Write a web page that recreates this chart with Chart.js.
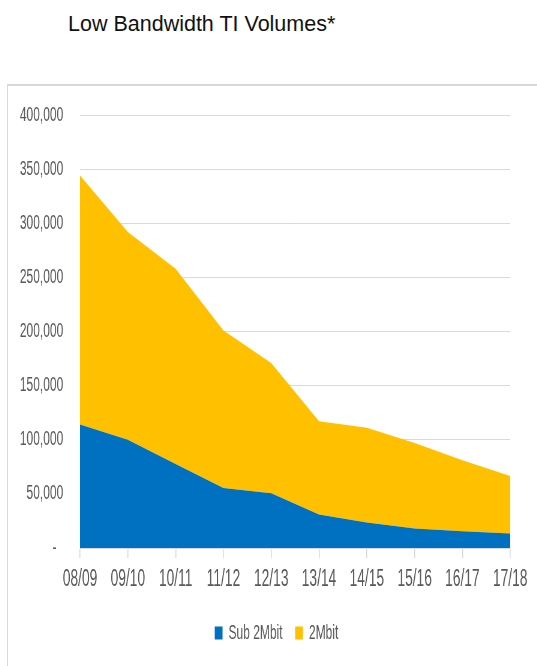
<!DOCTYPE html>
<html>
<head>
<meta charset="utf-8">
<title>Low Bandwidth TI Volumes</title>
<script src="https://cdn.jsdelivr.net/npm/chart.js@4/dist/chart.umd.min.js"></script>
<style>
    html, body { margin: 0; padding: 0; background: #fff; }
    body { width: 537px; height: 666px; position: relative; overflow: hidden; }
    .page-title {
        position: absolute; left: 68px; top: 14px;
        font-family: "Liberation Sans", Arial, sans-serif;
        font-size: 21.5px; line-height: 21px; color: #111;
        white-space: nowrap;
    }
    .chart-frame {
        position: absolute; left: 7px; top: 84px; width: 540px; height: 600px;
        border-top: 2px solid #d9d9d9; border-left: 1px solid #d9d9d9;
    }
    .chart-wrap {
        position: absolute; left: 8px; top: 86px; width: 529px; height: 580px;
        overflow: hidden;
    }
    /* the Excel chart is squeezed sideways, so the canvas is too */
    #volume-chart { transform: scaleX(0.6); transform-origin: 0 0; }
</style>
</head>
<body>
<div class="page-title">Low Bandwidth TI Volumes*</div>
<div class="chart-frame"></div>
<div class="chart-wrap">
    <canvas id="volume-chart" width="882" height="580"></canvas>
</div>

<script>
////////////////////////////////////////////////////////////////////////////////////////////
// Data
////////////////////////////////////////////////////////////////////////////////////////////

const years = ['08/09', '09/10', '10/11', '11/12', '12/13', '13/14', '14/15', '15/16', '16/17', '17/18'];

// circuit volumes per financial year
const sub2Mbit = [114000, 100000, 77500, 55500, 50500, 31000, 23500, 18000, 15500, 13500];
const twoMbit  = [230000, 192000, 180500, 145500, 120500, 86000, 87500, 79000, 65500, 53000];

const yTicks = [0, 50000, 100000, 150000, 200000, 250000, 300000, 350000, 400000];

const seriesNames = ['Sub 2Mbit', '2Mbit'];
const seriesColors = ['#0070C0', '#FFC000'];

////////////////////////////////////////////////////////////////////////////////////////////
// Chart.JS
////////////////////////////////////////////////////////////////////////////////////////////

const textGray = '#595959';
const gridGray = '#d9d9d9';
const fontFamily = '"Liberation Sans", Arial, sans-serif';

const ctx = document.getElementById('volume-chart').getContext('2d');

// Excel style accounting format, zero shows as a dash
function formatVolume(value) {
    if (value === 0) return '-  ';
    return value.toLocaleString('en-US');
}

// legend sits a little right of the canvas centre, under the plot area
const legendShift = {
    id: 'legendShift',
    afterLayout(chart) {
        chart.legend.left += 29;
        chart.legend.right += 29;
    }
};

let volumeChart = new Chart(ctx, {
    type: 'line',
    data: {
        labels: years,
        datasets: [sub2Mbit, twoMbit].map((values, i) => ({
            label: seriesNames[i],
            data: values,
            backgroundColor: seriesColors[i],
            borderColor: seriesColors[i],
            borderWidth: 0,
            pointRadius: 0,
            tension: 0,
            fill: i === 0 ? 'origin' : '-1'
        }))
    },
    plugins: [legendShift],
    options: {
        responsive: false,
        animation: false,
        devicePixelRatio: 1,
        layout: {
            padding: { left: 0, right: 45, top: 29, bottom: 13 }
        },
        plugins: {
            title: { display: false },
            tooltip: { enabled: false },
            legend: {
                position: 'bottom',
                labels: {
                    color: textGray,
                    font: { family: fontFamily, size: 20 },
                    boxWidth: 13,
                    boxHeight: 13,
                    padding: 21
                }
            }
        },
        scales: {
            x: {
                offset: false,
                grid: {
                    drawOnChartArea: false,
                    drawTicks: true,
                    tickLength: 10,
                    color: gridGray,
                    lineWidth: 1.6
                },
                border: { color: gridGray, width: 1 },
                ticks: {
                    color: textGray,
                    font: { family: fontFamily, size: 23 },
                    padding: 8,
                    maxRotation: 0,
                    autoSkip: false
                },
                afterFit: (scale) => { scale.height = 54; }
            },
            y: {
                stacked: true,
                min: 0,
                max: yTicks[yTicks.length - 1],
                afterBuildTicks: (scale) => {
                    scale.ticks = yTicks.map(v => ({ value: v }));
                },
                grid: {
                    drawTicks: false,
                    color: gridGray,
                    lineWidth: 1
                },
                border: { display: false },
                ticks: {
                    color: textGray,
                    font: { family: fontFamily, size: 20 },
                    padding: 28,
                    callback: (value) => formatVolume(value)
                },
                afterFit: (scale) => {
                    // fixed axis width; tick padding should not push the plot down
                    scale.width = 120;
                    scale.paddingTop = 0;
                    scale.paddingBottom = 0;
                }
            }
        }
    }
});
</script>
</body>
</html>
